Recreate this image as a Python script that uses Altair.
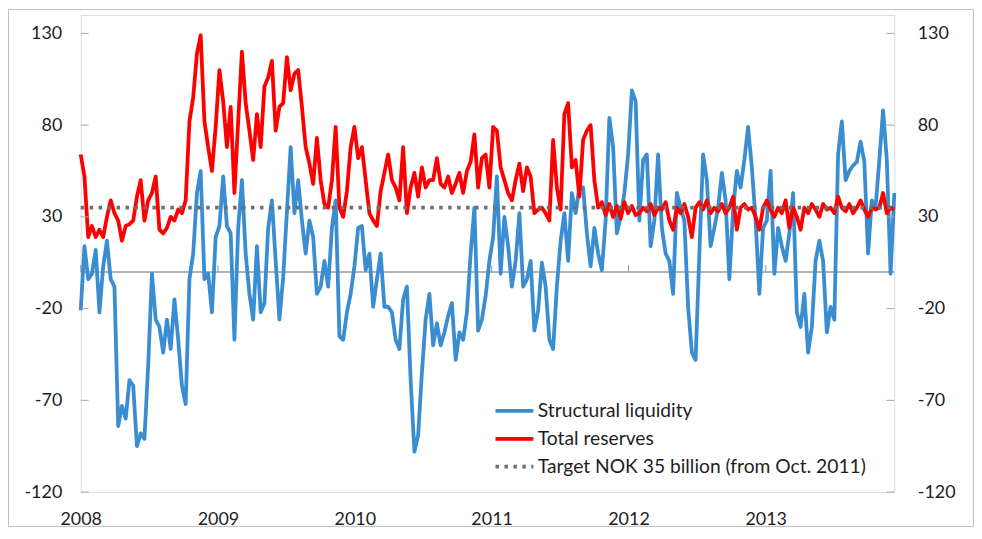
import altair as alt
import pandas as pd

# ---- data (one value every 10 days from 2008-01-01) ----
start_date = "2008-01-01"
step_days = 10

structural_liquidity = [
    -21, 14, -4, -1, 12, -22, 3, 17, -4, -8, -84, -73, -80, -59, -62, -95, -88, -91, -51, -1,
    -26, -30, -44, -26, -42, -15, -37, -62, -72, -4, 10, 43, 55, -4, -1, -22, 19, 25, 52, 25,
    21, -37, 24, 50, 10, -12, -26, 14, -22, -17, 24, 39, 6, -26, -3, 33, 68, 32, 50, 28,
    10, 28, 19, -12, -8, 6, -8, 24, 39, -35, -37, -22, -12, 3, 24, 25, 1, 10, -19, -4,
    10, -19, -19, -22, -37, -42, -15, -8, -59, -98, -89, -55, -26, -12, -40, -28, -40, -33, -24, -17,
    -48, -33, -37, -22, 10, 35, -32, -26, -13, 6, 19, 52, -1, 30, 14, -8, 6, 32, -8, -4,
    6, -32, -21, 5, -8, -37, -42, -8, 17, 32, 6, 43, 32, 46, 46, 21, 3, 24, 10, 1,
    28, 84, 68, 21, 30, 43, 64, 99, 93, 28, 61, 64, 14, 28, 64, 24, 10, 6, -12, 43,
    35, 28, -19, -44, -48, 10, 64, 50, 14, 24, 35, 54, 39, -4, 34, 55, 46, 61, 79, 57,
    28, -12, 24, 28, 55, -1, 24, 14, 6, 21, 43, -22, -30, -12, -44, -30, 6, 17, 6, -33,
    -19, -26, 64, 82, 50, 55, 58, 60, 71, 60, 10, 39, 35, 61, 88, 61, -1, 43,
]

total_reserves = [
    64, 52, 19, 25, 19, 23, 19, 30, 39, 32, 28, 17, 25, 26, 28, 41, 50, 28, 39, 43,
    52, 23, 21, 24, 30, 28, 34, 32, 39, 82, 95, 119, 129, 82, 68, 55, 79, 110, 93, 68,
    90, 43, 82, 120, 92, 77, 61, 86, 68, 101, 106, 115, 77, 90, 92, 117, 99, 108, 110, 90,
    68, 59, 48, 73, 50, 37, 35, 50, 79, 35, 30, 44, 68, 79, 62, 68, 50, 32, 28, 25,
    44, 54, 64, 50, 46, 39, 68, 32, 46, 54, 41, 57, 46, 50, 50, 62, 48, 46, 52, 43,
    48, 54, 43, 55, 60, 75, 46, 62, 64, 46, 79, 77, 57, 50, 43, 39, 50, 59, 44, 57,
    52, 32, 34, 35, 32, 28, 72, 46, 34, 86, 92, 57, 61, 41, 72, 77, 80, 50, 35, 38,
    31, 37, 30, 36, 29, 38, 32, 36, 31, 32, 35, 33, 37, 31, 35, 34, 38, 28, 23, 35,
    32, 37, 30, 19, 35, 38, 34, 39, 32, 35, 33, 37, 32, 35, 41, 23, 35, 37, 34, 35,
    30, 23, 35, 39, 34, 30, 35, 32, 39, 24, 35, 30, 23, 35, 32, 37, 34, 30, 37, 34,
    35, 32, 41, 35, 33, 37, 32, 35, 39, 34, 30, 35, 34, 35, 43, 32, 35, 34,
]

target_value = 35
x_start = (2008, 1, 1)
x_end = (2013, 12, 10)
y_domain = [-120, 140]
y_ticks = [-120, -70, -20, 30, 80, 130]
year_ticks = [2008, 2009, 2010, 2011, 2012, 2013]

series_names = [
    "Structural liquidity",
    "Total reserves",
    "Target NOK 35 billion (from Oct. 2011)",
]
series_colors = ["#3a8dd0", "#ff0000", "#6f6f6f"]
series_dashes = [[1, 0], [1, 0], [3.5, 5.5]]

# ---- tables ----
dates = pd.date_range(start_date, periods=len(structural_liquidity), freq=f"{step_days}D")
date_str = [d.strftime("%Y-%m-%dT00:00:00") for d in dates]

blue_df = pd.DataFrame({"date": date_str, "value": structural_liquidity, "series": series_names[0]})
red_df = pd.DataFrame({"date": date_str, "value": total_reserves, "series": series_names[1]})
target_df = pd.DataFrame({
    "date": [f"{x_start[0]:04d}-{x_start[1]:02d}-{x_start[2]:02d}T00:00:00",
             f"{x_end[0]:04d}-{x_end[1]:02d}-{x_end[2]:02d}T00:00:00"],
    "value": [target_value, target_value],
    "series": series_names[2],
})
year_df = pd.DataFrame({"date": [f"{y}-01-01T00:00:00" for y in year_ticks]})
ytick_df = pd.DataFrame({"tick": y_ticks})

W, H = 817, 479
FONT = "Lato"
TEXT = "#1e1e1e"
GRID_GRAY = "#a6a6a6"
LINE_W = 3.8

x_scale = alt.Scale(domain=[alt.DateTime(year=x_start[0], month=x_start[1], date=x_start[2]),
                            alt.DateTime(year=x_end[0], month=x_end[1], date=x_end[2])])
x_axis = alt.Axis(values=[alt.DateTime(year=y, month=1, date=1) for y in year_ticks],
                  format="%Y", title=None, labelFont=FONT, labelFontSize=18, labelColor=TEXT,
                  domain=False, ticks=False, grid=False, labelPadding=19, labelFlush=False)
y_scale = alt.Scale(domain=y_domain, nice=False, zero=False)

color_scale = alt.Scale(domain=series_names, range=series_colors)
dash_scale = alt.Scale(domain=series_names, range=series_dashes)
legend = alt.Legend(
    title=None, orient="none", legendX=424, legendY=386, padding=0,
    symbolType="M-2,0H2", symbolSize=361, symbolStrokeWidth=LINE_W,
    labelFont=FONT, labelFontSize=19.3, labelColor=TEXT, labelOffset=12, labelLimit=0,
    rowPadding=6, symbolOpacity=1,
)


def X():
    return alt.X("date:T", scale=x_scale, axis=x_axis)


def line_layer(df, axis):
    return alt.Chart(df).mark_line(strokeWidth=LINE_W, strokeJoin="round").encode(
        x=X(),
        y=alt.Y("value:Q", scale=y_scale, axis=axis),
        color=alt.Color("series:N", scale=color_scale, legend=legend),
        strokeDash=alt.StrokeDash("series:N", scale=dash_scale, legend=legend),
    )


label_expr = "'' + datum.value"
left_axis = alt.Axis(values=y_ticks, orient="left", title=None, domain=False, ticks=False,
                     grid=False, labelFont=FONT, labelFontSize=18, labelColor=TEXT,
                     labelPadding=19, labelExpr=label_expr)
right_axis = alt.Axis(values=y_ticks, orient="right", title=None, domain=False, ticks=False,
                      grid=False, labelFont=FONT, labelFontSize=18, labelColor=TEXT,
                      labelPadding=23, labelExpr=label_expr)

border = alt.Chart(pd.DataFrame({"a": [0]})).mark_rect(
    fill=None, stroke="#bdbdbd", strokeWidth=1
).encode(x=alt.value(-72.5), x2=alt.value(W + 79.5), y=alt.value(-5.5), y2=alt.value(H + 34.5))

zero_line = alt.Chart(pd.DataFrame({"a": [0]})).mark_rule(color="#9a9a9a", strokeWidth=1.5).encode(
    y=alt.Y(datum=0, scale=y_scale, axis=None)
)

year_tick_marks = alt.Chart(year_df).mark_rule(color="#9a9a9a", strokeWidth=1).encode(
    x=X(), y=alt.Y(datum=0, scale=y_scale, axis=None), y2=alt.Y2(datum=3.8)
)

blue = line_layer(blue_df, left_axis)
red = line_layer(red_df, None)
target = line_layer(target_df, None)

left_ticks = alt.Chart(ytick_df).mark_rule(color=GRID_GRAY, strokeWidth=1).encode(
    y=alt.Y("tick:Q", scale=y_scale, axis=None), x=alt.value(0), x2=alt.value(8)
)
right_ticks = alt.Chart(ytick_df).mark_rule(color=GRID_GRAY, strokeWidth=1).encode(
    y=alt.Y("tick:Q", scale=y_scale, axis=right_axis), x=alt.value(W - 8), x2=alt.value(W)
)

chart = alt.layer(
    border, zero_line, year_tick_marks, blue, red, target, left_ticks, right_ticks
).resolve_scale(y="independent").properties(
    width=W, height=H,
    autosize=alt.AutoSizeParams(type="none"),
    padding={"left": 73, "top": 6, "right": 80, "bottom": 35},
).configure_view(stroke=GRID_GRAY, strokeWidth=1).configure(background="white")

chart.save("out.html", embed_options={"renderer": "svg", "actions": False})
